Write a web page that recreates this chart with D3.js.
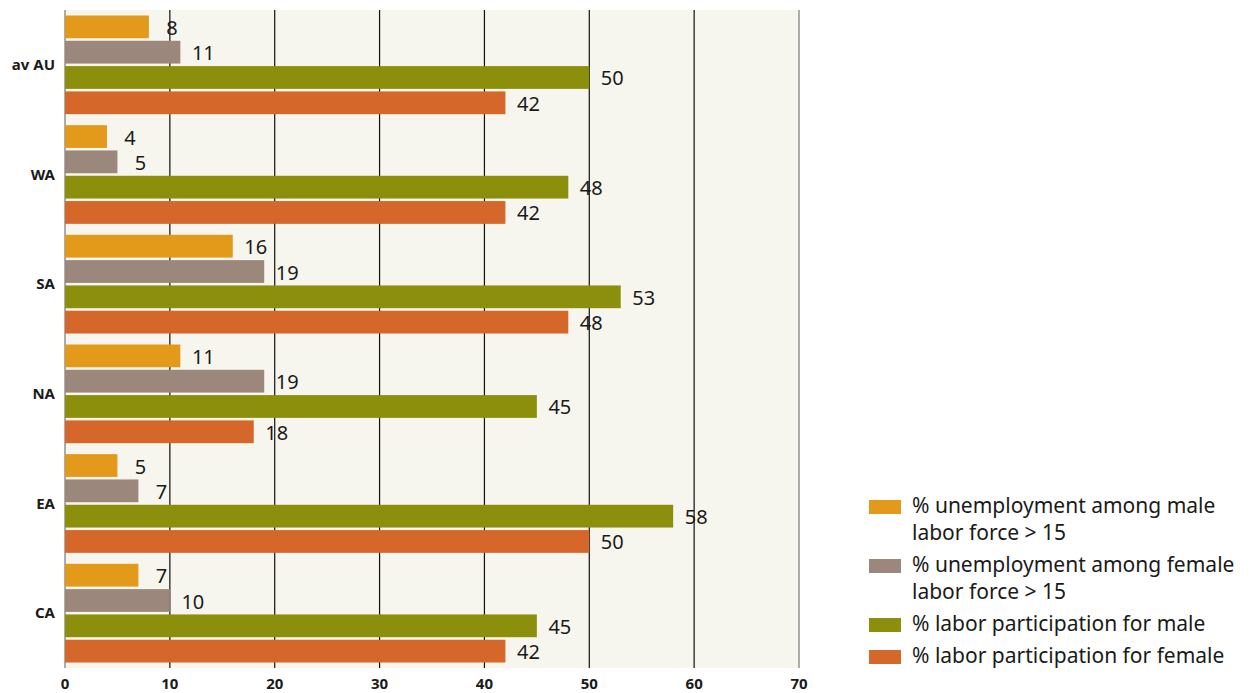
<!DOCTYPE html>
<html>
<head>
<meta charset="utf-8">
<script src="https://cdn.jsdelivr.net/npm/d3@7"></script>
<style>
  body { margin: 0; background: #fff; }
  svg { display: block; font-family: "Source Sans Pro", "Noto Sans", sans-serif; }
</style>
</head>
<body>
<div id="chart"></div>
<script>
// data, top to bottom
var regions = ["av AU", "WA", "SA", "NA", "EA", "CA"];
var seriesNames = [
  "% unemployment among male labor force > 15",
  "% unemployment among female labor force > 15",
  "% labor participation for male",
  "% labor participation for female"
];
var legendLines = [
  ["% unemployment among male", "labor force > 15"],
  ["% unemployment among female", "labor force > 15"],
  ["% labor participation for male"],
  ["% labor participation for female"]
];
var unempMale   = [8, 4, 16, 11, 5, 7];
var unempFemale = [11, 5, 19, 19, 7, 10];
var partMale    = [50, 48, 53, 45, 58, 45];
var partFemale  = [42, 42, 48, 18, 50, 42];
var xTicks = [0, 10, 20, 30, 40, 50, 60, 70];
var colors = ["#e39a1a", "#9b877c", "#8b8f0b", "#d5672a"];

var svg = d3.select("#chart")
  .append("svg")
  .attr("width", 1255)
  .attr("height", 693);

var margin = {top: 10, right: 456, bottom: 25, left: 65};
var width = 1255 - margin.left - margin.right;
var height = 693 - margin.top - margin.bottom;

var g = svg.append("g")
  .attr("transform", "translate(" + margin.left + "," + margin.top + ")");

var x = d3.scaleLinear().domain([0, 70]).range([0, width]);
var y0 = d3.scaleBand().domain(regions).range([0, height]).paddingInner(0.1).paddingOuter(0.05);
var y1 = d3.scaleBand().domain(d3.range(4)).range([0, y0.bandwidth()]).paddingInner(0.1);

var allSeries = [unempMale, unempFemale, partMale, partFemale];

// background
g.append("rect")
  .attr("width", width)
  .attr("height", height)
  .attr("fill", "#f7f6ee");

// grid
g.selectAll(".grid")
  .data(xTicks)
  .enter().append("line")
  .attr("x1", function(d) { return x(d); })
  .attr("x2", function(d) { return x(d); })
  .attr("y1", 0)
  .attr("y2", height)
  .attr("stroke", function(d) { return (d === 0 || d === 70) ? "#777" : "#111"; })
  .attr("stroke-width", 1.2);

var groups = g.selectAll(".region")
  .data(regions)
  .enter().append("g")
  .attr("transform", function(d) { return "translate(0," + y0(d) + ")"; });

groups.each(function(r, ri) {
  var sel = d3.select(this);
  var vals = allSeries.map(function(s, si) { return {si: si, v: s[ri]}; });

  sel.selectAll("rect")
    .data(vals)
    .enter().append("rect")
    .attr("x", 0)
    .attr("y", function(d) { return y1(d.si); })
    .attr("width", function(d) { return x(d.v); })
    .attr("height", y1.bandwidth())
    .attr("fill", function(d) { return colors[d.si]; });

  sel.selectAll("text.val")
    .data(vals)
    .enter().append("text")
    .attr("class", "val")
    .attr("x", function(d) { return x(d.v) + 23; })
    .attr("y", function(d) { return y1(d.si) + y1.bandwidth() / 2 + 1; })
    .attr("dy", "0.35em")
    .attr("text-anchor", "middle")
    .style("font-size", "20px")
    .attr("fill", "#1a1a1a")
    .text(function(d) { return d.v; });
});

// category labels
g.selectAll(".cat")
  .data(regions)
  .enter().append("text")
  .attr("x", -10)
  .attr("y", function(d) { return y0(d) + y0.bandwidth() / 2; })
  .attr("dy", "0.35em")
  .attr("text-anchor", "end")
  .style("font-size", "15px")
  .style("font-weight", "bold")
  .attr("fill", "#1a1a1a")
  .text(function(d) { return d; });

// x axis labels
g.selectAll(".tick-label")
  .data(xTicks)
  .enter().append("text")
  .attr("x", function(d) { return x(d); })
  .attr("y", height + 16)
  .attr("dy", "0.35em")
  .attr("text-anchor", "middle")
  .style("font-size", "15px")
  .style("font-weight", "bold")
  .attr("fill", "#1a1a1a")
  .text(function(d) { return d; });

// legend
var legendY = [507, 566, 625, 657];
var legend = svg.selectAll(".legend")
  .data(seriesNames)
  .enter().append("g")
  .attr("transform", function(d, i) { return "translate(869," + legendY[i] + ")"; });

legend.append("rect")
  .attr("x", 0)
  .attr("y", -7)
  .attr("width", 32)
  .attr("height", 14)
  .attr("fill", function(d, i) { return colors[i]; });

legend.each(function(d, i) {
  var sel = d3.select(this);
  legendLines[i].forEach(function(line, li) {
    sel.append("text")
      .attr("x", 43)
      .attr("y", 6 + li * 27)
      .style("font-size", "21px")
      .attr("fill", "#1a1a1a")
      .text(line);
  });
});
</script>
</body>
</html>
